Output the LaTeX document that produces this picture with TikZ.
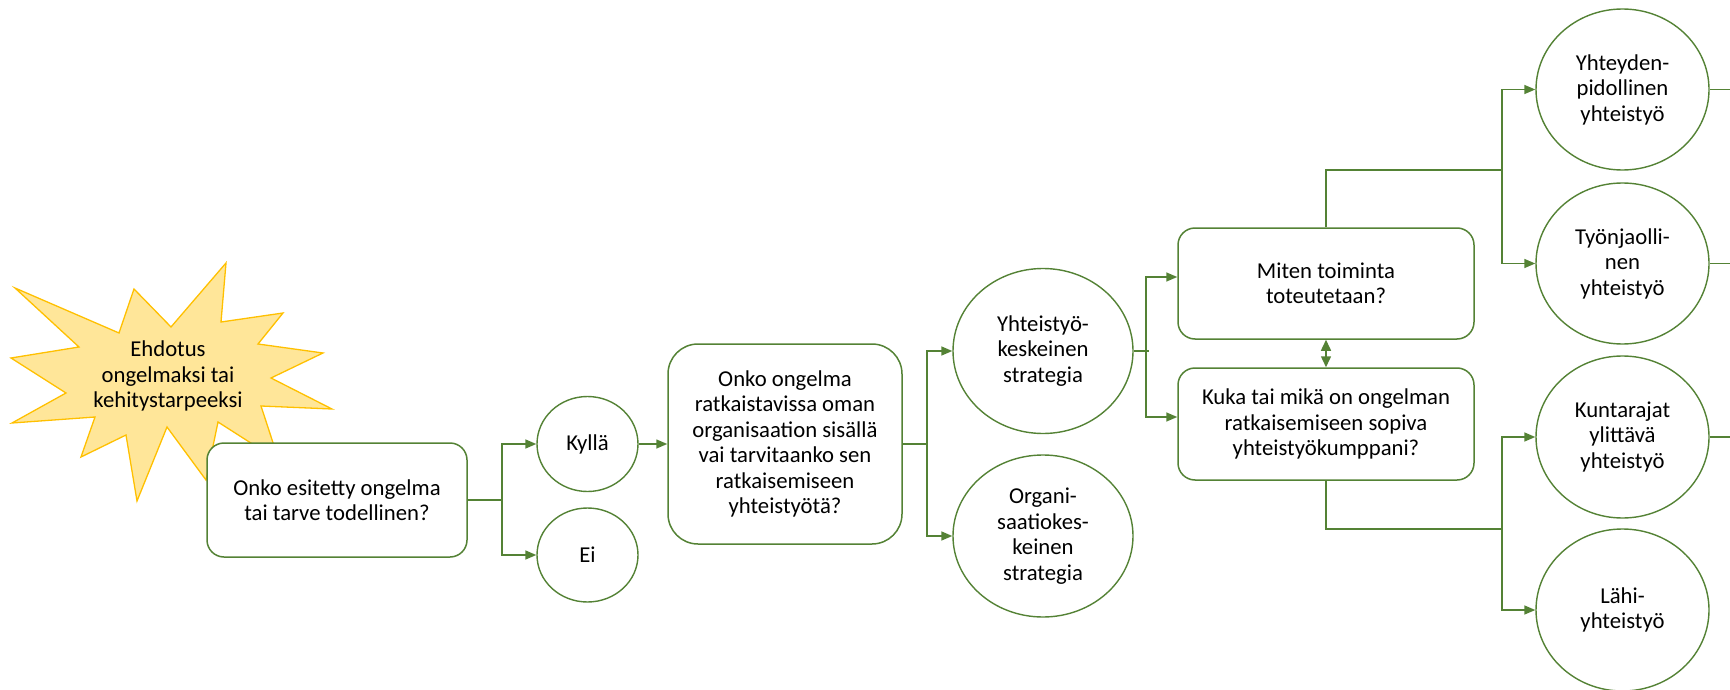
\documentclass[tikz,border=0pt]{standalone}
\usepackage{fontspec}
\setmainfont{Carlito}
\usetikzlibrary{shapes.geometric,arrows.meta}
\definecolor{gline}{HTML}{548235}
\definecolor{starfill}{HTML}{FFE699}
\definecolor{starline}{HTML}{FFC000}
\begin{document}
\begin{tikzpicture}[x=1pt,y=-1pt,
  every node/.style={font=\fontsize{22.7pt}{25.5pt}\selectfont, align=center, text=black},
  qbox/.style={draw=gline, line width=1.5pt, fill=white, rounded corners=17pt, inner sep=0pt},
  oval/.style={ellipse, draw=gline, line width=1.4pt, fill=white, inner sep=0pt},
  conn/.style={draw=gline, line width=1.5pt},
  arr/.style={conn, -{Triangle[length=11pt,width=9pt]}},
  dblarr/.style={conn, {Triangle[length=11pt,width=10pt]}-{Triangle[length=11pt,width=10pt]}},
]
\useasboundingbox (0,0) rectangle (1730,690);

% starburst
\draw[fill=starfill, draw=starline, line width=1.3pt, line join=miter]
  (15,288) -- (119,333) -- (134,289) -- (171,327) -- (226,263) -- (221,322) --
  (283,313) -- (258,344) -- (323,353) -- (271,378) -- (332,409) -- (261,406) --
  (279,461) -- (218,422) -- (206,480) -- (167,427) -- (137,501) -- (126,435) --
  (81,457) -- (95,417) -- (12,423) -- (66,393) -- (11,358) -- (79,347) -- cycle;
\node (star) at (168,376) {Ehdotus\\ongelmaksi tai\\kehitystarpeeksi};

% nodes
\node[qbox, minimum width=260pt, minimum height=114pt] (q1) at (337,500)
  {Onko esitetty ongelma\\tai tarve todellinen?};
\node[oval, minimum width=101pt, minimum height=95pt] (kyl) at (587.5,444) {Kyllä};
\node[oval, minimum width=101pt, minimum height=94pt] (ei) at (587.5,555) {Ei};
\node[qbox, rounded corners=30pt, minimum width=234pt, minimum height=200pt] (q2) at (785,444)
  {Onko ongelma\\ratkaistavissa oman\\organisaation sisällä\\vai tarvitaanko sen\\ratkaisemiseen\\yhteistyötä?};
\node[oval, minimum width=180pt, minimum height=165pt] (yht) at (1043,351)
  {Yhteistyö-\\keskeinen\\strategia};
\node[oval, minimum width=180pt, minimum height=162pt] (org) at (1043,536)
  {Organi-\\saatiokes-\\keinen\\strategia};
\node[qbox, minimum width=296pt, minimum height=111pt] (miten) at (1326,283.5)
  {Miten toiminta\\toteutetaan?};
\node[qbox, minimum width=296pt, minimum height=112pt] (kuka) at (1326,424)
  {Kuka tai mikä on ongelman\\ratkaisemiseen sopiva\\yhteistyökumppani?};
\node[oval, minimum width=173pt, minimum height=161pt] (yhd) at (1622.5,89.5)
  {Yhteyden-\\pidollinen\\yhteistyö};
\node[oval, minimum width=173pt, minimum height=161pt] (tyo) at (1622.5,263.5)
  {Työnjaolli-\\nen\\yhteistyö};
\node[oval, minimum width=173pt, minimum height=162pt] (kun) at (1622.5,437)
  {Kuntarajat\\ylittävä\\yhteistyö};
\node[oval, minimum width=173pt, minimum height=162pt] (lah) at (1622.5,610)
  {Lähi-\\yhteistyö};

% connectors
\coordinate (j1) at (502,500);
\draw[conn] (q1.east) -- (j1);
\draw[arr] (j1) |- (kyl.west);
\draw[arr] (j1) |- (ei.west);
\draw[arr] (kyl.east) -- (q2.west);

\coordinate (j2) at (927,444);
\draw[conn] (q2.east) -- (j2);
\draw[arr] (j2) |- (yht.west);
\draw[arr] (j2) |- (org.west);

\coordinate (j3) at (1146,351);
\coordinate (j3e) at (1149,351);
\coordinate (j3t) at (1146,277);
\coordinate (j3b) at (1146,417);
\draw[conn] (yht.east) -- (j3e);
\draw[arr] (j3) -- (j3t) -- (j3t -| miten.west);
\draw[arr] (j3) -- (j3b) -- (j3b -| kuka.west);

\draw[dblarr] (miten.south) -- (kuka.north);

\coordinate (t1) at (1326,170);
\coordinate (t2) at (1502,170);
\draw[conn] (miten.north) -- (t1) -- (t2);
\draw[arr] (t2) |- (yhd.west);
\draw[arr] (t2) |- (tyo.west);

\coordinate (b1) at (1326,529);
\coordinate (b2) at (1502,529);
\draw[conn] (kuka.south) -- (b1) -- (b2);
\draw[arr] (b2) |- (kun.west);
\draw[arr] (b2) |- (lah.west);

\coordinate (e1) at (1730,89.5);
\coordinate (e2) at (1730,263.5);
\coordinate (e3) at (1730,437);
\draw[conn] (yhd.east) -- (e1);
\draw[conn] (tyo.east) -- (e2);
\draw[conn] (kun.east) -- (e3);
\end{tikzpicture}
\end{document}
